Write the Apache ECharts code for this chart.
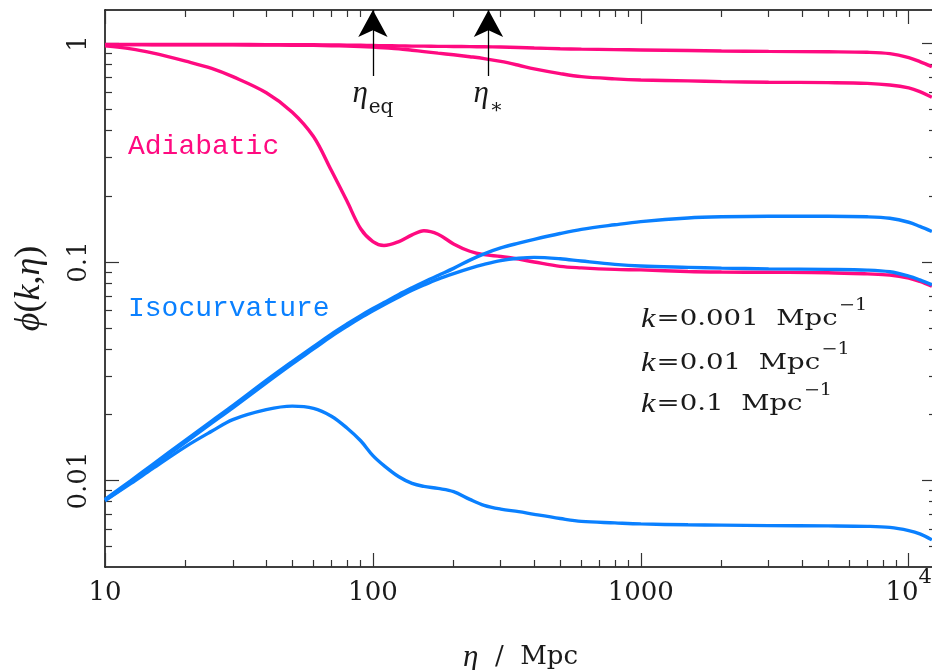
<!DOCTYPE html>
<html><head><meta charset="utf-8">
<script src="https://cdn.jsdelivr.net/npm/echarts@6/dist/echarts.min.js"></script>
<style>html,body{margin:0;padding:0;background:#fff}#c{width:932px;height:670px}</style>
</head><body><div id="c"></div>
<script>
// ---- data ----
const eta = [10, 12.5, 15, 20, 25, 30, 40, 50, 60, 70, 80, 90, 100, 110, 125, 140, 155, 175, 200, 230, 260, 300, 350, 400, 500, 600, 800, 1000, 1500, 2000, 3000, 5000, 7000, 8500, 10000, 11000, 12200];
const adiabatic_k0001 = [0.990, 0.990, 0.990, 0.990, 0.989, 0.989, 0.988, 0.987, 0.986, 0.985, 0.983, 0.981, 0.979, 0.977, 0.975, 0.973, 0.972, 0.970, 0.969, 0.967, 0.966, 0.963, 0.958, 0.953, 0.946, 0.942, 0.937, 0.934, 0.928, 0.924, 0.920, 0.916, 0.911, 0.898, 0.862, 0.826, 0.783];
const adiabatic_k001 = [0.988, 0.988, 0.987, 0.987, 0.986, 0.985, 0.984, 0.982, 0.980, 0.977, 0.973, 0.968, 0.962, 0.955, 0.945, 0.931, 0.918, 0.903, 0.888, 0.870, 0.853, 0.828, 0.795, 0.765, 0.728, 0.705, 0.689, 0.681, 0.674, 0.669, 0.665, 0.662, 0.657, 0.646, 0.626, 0.602, 0.567];
const adiabatic_k01 = [0.975, 0.945, 0.905, 0.830, 0.770, 0.705, 0.595, 0.485, 0.375, 0.262, 0.190, 0.142, 0.124, 0.119, 0.124, 0.133, 0.139, 0.134, 0.121, 0.112, 0.108, 0.106, 0.103, 0.100, 0.0955, 0.094, 0.0925, 0.092, 0.0905, 0.0900, 0.0897, 0.0893, 0.0882, 0.0872, 0.0845, 0.0815, 0.0775];
const isocurvature_k0001 = [0.0082, 0.0100, 0.0118, 0.0153, 0.0187, 0.0220, 0.0287, 0.0350, 0.0410, 0.0468, 0.0520, 0.0568, 0.0612, 0.0652, 0.0710, 0.0762, 0.0810, 0.0868, 0.0935, 0.1020, 0.1090, 0.1160, 0.1220, 0.1270, 0.1350, 0.1410, 0.1480, 0.1530, 0.1590, 0.1610, 0.1620, 0.1620, 0.1610, 0.1585, 0.1520, 0.1455, 0.1380];
const isocurvature_k001 = [0.0081, 0.0098, 0.0116, 0.0150, 0.0183, 0.0215, 0.0280, 0.0342, 0.0400, 0.0457, 0.0508, 0.0555, 0.0598, 0.0638, 0.0692, 0.0742, 0.0785, 0.0835, 0.0885, 0.0935, 0.0975, 0.1015, 0.1040, 0.1050, 0.1035, 0.1010, 0.0975, 0.0958, 0.0945, 0.0937, 0.0930, 0.0925, 0.0918, 0.0902, 0.0862, 0.0828, 0.0786];
const isocurvature_k01 = [0.0081, 0.0097, 0.0113, 0.0143, 0.0168, 0.0190, 0.0211, 0.0219, 0.0214, 0.0197, 0.0174, 0.0152, 0.0130, 0.0117, 0.0104, 0.0097, 0.0094, 0.0092, 0.0089, 0.0082, 0.0077, 0.0074, 0.0072, 0.0070, 0.0067, 0.0065, 0.0064, 0.00633, 0.00627, 0.00625, 0.00622, 0.0062, 0.00617, 0.0061, 0.0059, 0.0057, 0.00535];

const xMajorTicks = [10, 100, 1000, 10000];
const xTickLabels = ['{m|10}', '{m|100}', '{m|1000}', '{m|10}{sup|4}'];
const xMinorTicks = [20, 30, 40, 50, 60, 70, 80, 90, 200, 300, 400, 500, 600, 700, 800, 900, 2000, 3000, 4000, 5000, 6000, 7000, 8000, 9000];
const yMajorTicks = [0.01, 0.1, 1];
const yTickLabels = ['0.01', '0.1', '1'];
const yMinorTicks = [0.005, 0.006, 0.007, 0.008, 0.009, 0.02, 0.03, 0.04, 0.05, 0.06, 0.07, 0.08, 0.09, 0.2, 0.3, 0.4, 0.5, 0.6, 0.7, 0.8, 0.9];
const kLabels = ['0.001', '0.01', '0.1'];
const annotationEta = [100, 270];
const annotationLabels = ['{e|η}{s|eq}', '{e|η}{s|∗}'];
const arrowBase = 0.71;

const X_MIN = 10, X_MAX = 12640, Y_MIN = 0.00402, Y_MAX = 1.423;
const PINK = '#ff0a80', BLUE = '#0a80ff';
const MONO = '"Liberation Mono", monospace';
const SERIF = '"DejaVu Serif", serif';
const ISERIF = '"Liberation Serif", "DejaVu Serif", serif';
const INK = '#1a1a1a';

function pair(ys) { return eta.map((x, i) => [x, ys[i]]); }
function nearestIdx(arr, v) { let b = 0; arr.forEach((t, i) => { if (Math.abs(Math.log(t) - Math.log(v)) < Math.abs(Math.log(arr[b]) - Math.log(v))) b = i; }); return b; }

const tickStyle = { color: '#333', width: 1.2 };
function xAx(position, ticks, len, labels, line) {
  return {
    type: 'log', logBase: 10, min: X_MIN, max: X_MAX, position,
    axisLine: { show: line, onZero: false, lineStyle: { color: '#000', width: 1.5 } },
    axisTick: { show: true, inside: true, length: len, customValues: ticks, lineStyle: tickStyle },
    axisLabel: labels ? {
      show: true, customValues: xMajorTicks, margin: 0,
      formatter: v => xTickLabels[nearestIdx(xMajorTicks, v)],
      rich: {
        m: { fontFamily: SERIF, fontSize: 26, lineHeight: 26, color: INK, verticalAlign: 'top', padding: [13, 0, 0, 0] },
        sup: { fontFamily: SERIF, fontSize: 21, lineHeight: 21, color: INK, verticalAlign: 'top' }
      }
    } : { show: false },
    splitLine: { show: false }, minorTick: { show: false }, minorSplitLine: { show: false },
    name: labels ? '{i|η}{m|  /  Mpc}' : '',
    nameLocation: 'middle', nameGap: 75,
    nameTextStyle: { rich: { i: { fontFamily: ISERIF, fontStyle: 'italic', fontSize: 31, color: INK }, m: { fontFamily: SERIF, fontSize: 26, color: INK } } }
  };
}
function yAx(position, ticks, len, labels, line) {
  return {
    type: 'log', logBase: 10, min: Y_MIN, max: Y_MAX, position,
    axisLine: { show: line, onZero: false, lineStyle: { color: '#000', width: 1.5 } },
    axisTick: { show: true, inside: true, length: len, customValues: ticks, lineStyle: tickStyle },
    axisLabel: labels ? {
      show: true, customValues: yMajorTicks, rotate: 90, margin: 13,
      formatter: v => yTickLabels[nearestIdx(yMajorTicks, v)],
      fontFamily: SERIF, fontSize: 26, color: INK
    } : { show: false },
    splitLine: { show: false }, minorTick: { show: false }, minorSplitLine: { show: false },
    name: labels ? '{i|ϕ}{r|(}{i|k}{r|,}{i|η}{r|)}' : '',
    nameLocation: 'middle', nameGap: 57, nameRotate: 90,
    nameTextStyle: { rich: { i: { fontFamily: ISERIF, fontStyle: 'italic', fontSize: 36, color: INK }, r: { fontFamily: ISERIF, fontSize: 36, color: INK } } }
  };
}

function lineSeries(name, ys, color, extra) {
  return Object.assign({
    name, type: 'line', data: pair(ys), xAxisIndex: 0, yAxisIndex: 0,
    showSymbol: false, smooth: 0.35, clip: true,
    lineStyle: { color, width: 3.4 }, itemStyle: { color }, z: 3
  }, extra || {});
}

const chart = echarts.init(document.getElementById('c'), null, { renderer: 'canvas' });
chart.setOption({
  animation: false,
  backgroundColor: '#fff',
  grid: { left: 105, right: -4, top: 10, bottom: 103, containLabel: false, outerBoundsMode: 'none' },
  xAxis: [
    xAx('bottom', xMajorTicks, 14, true, true),
    xAx('bottom', xMinorTicks, 7, false, false),
    xAx('top', xMajorTicks, 14, false, true),
    xAx('top', xMinorTicks, 7, false, false)
  ],
  yAxis: [
    yAx('left', yMajorTicks, 14, true, true),
    yAx('left', yMinorTicks, 7, false, false),
    yAx('right', yMajorTicks, 14, false, true),
    yAx('right', yMinorTicks, 7, false, false)
  ],
  series: [
    lineSeries('Adiabatic k=0.001', adiabatic_k0001, PINK, {
      markLine: {
        silent: true, symbol: ['none', 'arrow'], symbolSize: 24,
        lineStyle: { color: '#000', width: 1.3, type: 'solid' },
        itemStyle: { color: '#000' },
        label: {
          show: true, position: 'start', distance: 2, color: INK,
          rich: {
            e: { fontFamily: ISERIF, fontStyle: 'italic', fontSize: 31, lineHeight: 30, color: INK, verticalAlign: 'top' },
            s: { fontFamily: SERIF, fontSize: 20, lineHeight: 20, color: INK, verticalAlign: 'top', padding: [20, 0, 0, 1] }
          }
        },
        data: annotationEta.map((x, i) => [
          { coord: [x, arrowBase], label: { formatter: annotationLabels[i] } },
          { coord: [x, Y_MAX], symbolSize: [22, 27] }
        ])
      }
    }),
    lineSeries('Adiabatic k=0.01', adiabatic_k001, PINK),
    lineSeries('Adiabatic k=0.1', adiabatic_k01, PINK),
    lineSeries('Isocurvature k=0.001', isocurvature_k0001, BLUE),
    lineSeries('Isocurvature k=0.01', isocurvature_k001, BLUE),
    lineSeries('Isocurvature k=0.1', isocurvature_k01, BLUE)
  ],
  graphic: [
    { type: 'text', left: 128, top: 133, style: { text: 'Adiabatic', fill: PINK, font: '28px ' + MONO } },
    { type: 'text', left: 128, top: 295, style: { text: 'Isocurvature', fill: BLUE, font: '28px ' + MONO } }
  ].concat(kLabels.map((k, i) => ({
    type: 'text', x: 641, y: [298, 342, 383][i], scaleX: 1.2,
    style: {
      text: '{k|k}{t|=' + k + '  Mpc}{s|−1}',
      verticalAlign: 'top',
      rich: {
        k: { fontFamily: ISERIF, fontStyle: 'italic', fontSize: 27, lineHeight: 26, fill: INK, verticalAlign: 'top', padding: [8, 1, 0, 0] },
        t: { fontFamily: SERIF, fontSize: 23, lineHeight: 23, fill: INK, verticalAlign: 'top', padding: [10, 0, 0, 0] },
        s: { fontFamily: SERIF, fontSize: 16, lineHeight: 16, fill: INK, verticalAlign: 'top', padding: [0, 0, 0, 1] }
      }
    }
  })))
});
</script></body></html>
